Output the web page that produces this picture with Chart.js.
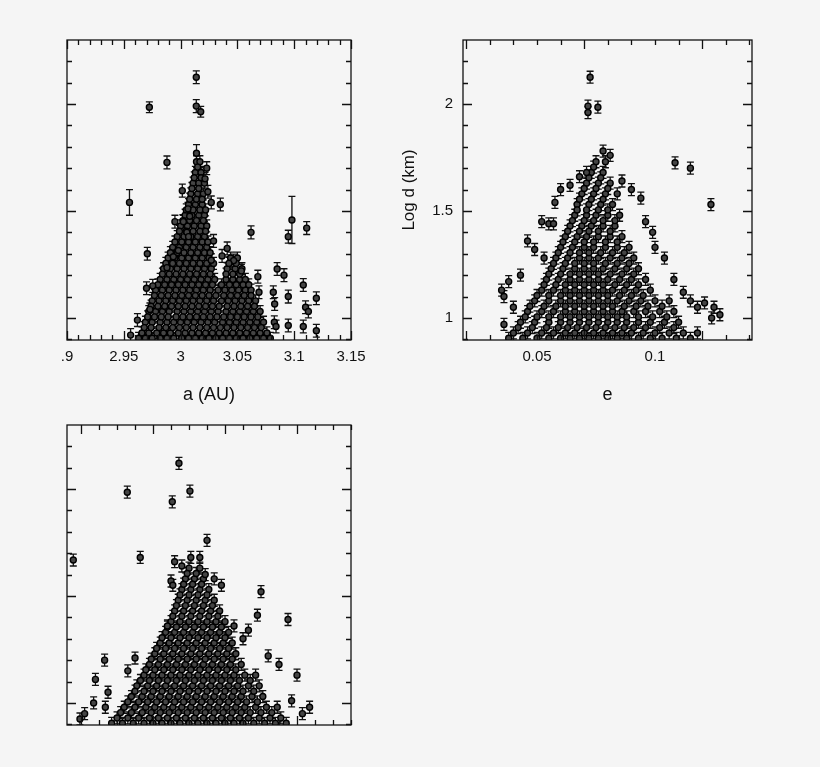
<!DOCTYPE html>
<html><head><meta charset="utf-8">
<script src="https://cdn.jsdelivr.net/npm/chart.js@4"></script>
<style>
html,body{margin:0;padding:0;background:#f5f5f5;width:820px;height:767px;overflow:hidden;font-family:"Liberation Sans",Arial,sans-serif}
canvas{position:absolute}
</style></head><body>
<canvas id="c1" width="410" height="410" style="left:0;top:0"></canvas>
<canvas id="c2" width="425" height="410" style="left:395px;top:0"></canvas>
<canvas id="c3" width="410" height="357" style="left:0;top:410px"></canvas>
<script>
// ---- data (log d in km) ----
const logDRows = [0.93,0.98,1.03,1.08,1.13,1.18,1.23,1.28,1.33,1.38,1.43,1.48,1.53,1.58,1.63,1.68,1.73];
const logDRows2 = [0.905,0.955,1.005,1.055,1.105,1.155,1.205,1.255,1.305,1.355,1.405,1.455,1.505,1.555,1.605,1.655,1.705];
const aRows = [
 [2.966,2.972,2.979,2.985,2.991,2.998,3.004,3.010,3.016,3.022,3.028,3.034,3.040,3.046,3.052,3.058,3.064,3.070,3.076],
 [2.969,2.975,2.982,2.988,2.994,3.000,3.006,3.012,3.018,3.024,3.030,3.037,3.043,3.049,3.055,3.061,3.067,3.073],
 [2.972,2.978,2.984,2.990,2.997,3.003,3.009,3.015,3.021,3.027,3.033,3.040,3.046,3.052,3.058,3.064,3.070],
 [2.975,2.981,2.987,2.993,2.999,3.005,3.011,3.017,3.023,3.029,3.036,3.042,3.048,3.054,3.060,3.066],
 [2.978,2.984,2.990,2.996,3.002,3.008,3.014,3.020,3.026,3.033,3.039,3.045,3.051,3.057,3.062],
 [2.982,2.988,2.994,3.000,3.006,3.012,3.018,3.024,3.030,3.040,3.046,3.052,3.057],
 [2.985,2.991,2.997,3.003,3.009,3.015,3.021,3.027,3.041,3.048,3.054],
 [2.989,2.995,3.001,3.007,3.013,3.019,3.025,3.044,3.050],
 [2.993,2.999,3.005,3.011,3.017,3.023],
 [2.997,3.003,3.009,3.015,3.021],
 [3.000,3.006,3.012,3.018,3.023],
 [3.004,3.010,3.016,3.021],
 [3.007,3.013,3.019],
 [3.009,3.015,3.020],
 [3.011,3.016,3.021],
 [3.013,3.018],
 [3.014,3.017]
];
const aRows2 = [
 [2.963,2.969,2.975,2.982,2.988,2.994,3.001,3.007,3.013,3.019,3.025,3.031,3.037,3.043,3.049,3.055,3.061,3.067,3.073,3.079],
 [2.968,2.974,2.981,2.987,2.993,2.999,3.005,3.011,3.017,3.023,3.029,3.035,3.041,3.047,3.053,3.059,3.065,3.071],
 [2.971,2.977,2.983,2.989,2.996,3.002,3.008,3.014,3.020,3.026,3.032,3.038,3.044,3.050,3.056,3.062,3.068],
 [2.974,2.980,2.986,2.992,2.998,3.004,3.010,3.016,3.022,3.028,3.034,3.041,3.047,3.053,3.059,3.065],
 [2.977,2.983,2.989,2.995,3.001,3.007,3.013,3.019,3.025,3.031,3.038,3.044,3.050,3.056,3.062],
 [2.980,2.986,2.992,2.998,3.004,3.010,3.016,3.022,3.028,3.036,3.043,3.049,3.055,3.060],
 [2.984,2.990,2.996,3.002,3.008,3.014,3.020,3.026,3.040,3.046,3.052],
 [2.987,2.993,2.999,3.005,3.011,3.017,3.023,3.029,3.043,3.049],
 [2.991,2.997,3.003,3.009,3.015,3.021,3.026],
 [2.995,3.001,3.007,3.013,3.019,3.024],
 [2.999,3.005,3.011,3.017,3.022],
 [3.002,3.008,3.014,3.020],
 [3.005,3.011,3.017,3.022],
 [3.008,3.014,3.019],
 [3.010,3.016],
 [3.012,3.018],
 [3.015]
];
const eRows = [
 [0.040,0.046,0.052,0.057,0.062,0.066,0.070,0.074,0.078,0.082,0.086,0.090,0.095,0.100,0.106,0.112,0.118],
 [0.043,0.049,0.055,0.060,0.064,0.068,0.072,0.076,0.080,0.084,0.088,0.093,0.098,0.104,0.110],
 [0.046,0.052,0.057,0.062,0.066,0.070,0.074,0.078,0.082,0.086,0.091,0.096,0.102,0.108],
 [0.049,0.055,0.060,0.064,0.068,0.072,0.076,0.080,0.084,0.089,0.094,0.100,0.106],
 [0.052,0.057,0.062,0.066,0.070,0.074,0.078,0.082,0.087,0.092,0.098],
 [0.054,0.059,0.064,0.068,0.072,0.076,0.080,0.085,0.090,0.096],
 [0.056,0.061,0.066,0.070,0.074,0.078,0.083,0.088,0.093],
 [0.058,0.063,0.068,0.072,0.076,0.081,0.086,0.091],
 [0.060,0.065,0.070,0.074,0.079,0.084,0.089],
 [0.062,0.067,0.071,0.076,0.081,0.086],
 [0.064,0.069,0.073,0.078,0.083],
 [0.066,0.071,0.075,0.080,0.085],
 [0.067,0.072,0.077,0.082],
 [0.069,0.074,0.079,0.084],
 [0.071,0.076,0.081],
 [0.073,0.078],
 [0.075,0.079]
];
const eRows2 = [
 [0.038,0.044,0.050,0.055,0.060,0.064,0.068,0.072,0.076,0.080,0.084,0.088,0.093,0.098,0.103,0.109,0.115],
 [0.042,0.048,0.054,0.059,0.063,0.067,0.071,0.075,0.079,0.083,0.087,0.091,0.096,0.102,0.108],
 [0.045,0.050,0.055,0.060,0.064,0.068,0.072,0.076,0.080,0.084,0.088,0.093,0.099,0.105],
 [0.047,0.053,0.058,0.062,0.066,0.070,0.074,0.078,0.082,0.087,0.092,0.097,0.103],
 [0.050,0.055,0.060,0.064,0.068,0.072,0.076,0.080,0.085,0.090,0.095],
 [0.053,0.058,0.062,0.066,0.070,0.074,0.078,0.083,0.088,0.093],
 [0.055,0.060,0.064,0.068,0.072,0.076,0.081,0.086,0.091],
 [0.057,0.062,0.066,0.070,0.074,0.079,0.084,0.089],
 [0.059,0.064,0.068,0.072,0.077,0.082,0.087],
 [0.061,0.066,0.070,0.074,0.079,0.084],
 [0.063,0.068,0.072,0.076,0.081],
 [0.065,0.070,0.074,0.078,0.083],
 [0.067,0.071,0.076,0.080],
 [0.068,0.073,0.078],
 [0.070,0.075,0.080],
 [0.072,0.077],
 [0.074]
];
const iRows = [
 [9.0,9.6,10.2,10.8,11.3,11.8,12.3,12.8,13.3,13.8,14.3,14.8,15.3,15.8,16.3,16.9,17.5,18.1],
 [9.4,10.0,10.6,11.1,11.6,12.1,12.6,13.1,13.6,14.1,14.6,15.1,15.6,16.1,16.7,17.3,17.9],
 [9.8,10.4,10.9,11.4,11.9,12.4,12.9,13.4,13.9,14.4,14.9,15.4,15.9,16.5,17.1],
 [10.1,10.7,11.2,11.7,12.2,12.7,13.2,13.7,14.2,14.7,15.2,15.7,16.3,16.9],
 [10.5,11.0,11.5,12.0,12.5,13.0,13.5,14.0,14.5,15.0,15.5,16.1,16.7],
 [10.8,11.3,11.8,12.3,12.8,13.3,13.8,14.3,14.8,15.3,15.9],
 [11.1,11.6,12.1,12.6,13.1,13.6,14.1,14.6,15.1,15.6],
 [11.4,11.9,12.4,12.9,13.4,13.9,14.4,14.9,15.4],
 [11.7,12.2,12.7,13.2,13.7,14.2,14.7,15.2],
 [12.0,12.5,13.0,13.5,14.0,14.5,15.0],
 [12.2,12.7,13.2,13.7,14.2,14.7],
 [12.4,12.9,13.4,13.9,14.4],
 [12.6,13.1,13.6,14.1],
 [12.8,13.3,13.8],
 [13.0,13.6],
 [],
 []
];
const iRows2 = [
 [8.7,9.3,9.9,10.5,11.0,11.5,12.0,12.5,13.0,13.5,14.0,14.5,15.0,15.5,16.0,16.6,17.2,17.8,18.4],
 [9.2,9.8,10.4,10.9,11.4,11.9,12.4,12.9,13.4,13.9,14.4,14.9,15.4,15.9,16.4,17.0,17.6],
 [9.6,10.2,10.7,11.2,11.7,12.2,12.7,13.2,13.7,14.2,14.7,15.2,15.7,16.2,16.8],
 [10.0,10.5,11.0,11.5,12.0,12.5,13.0,13.5,14.0,14.5,15.0,15.5,16.0,16.6],
 [10.3,10.8,11.3,11.8,12.3,12.8,13.3,13.8,14.3,14.8,15.3,15.8,16.4],
 [10.6,11.1,11.6,12.1,12.6,13.1,13.6,14.1,14.6,15.1,15.6],
 [10.9,11.4,11.9,12.4,12.9,13.4,13.9,14.4,14.9,15.4],
 [11.2,11.7,12.2,12.7,13.2,13.7,14.2,14.7,15.2],
 [11.5,12.0,12.5,13.0,13.5,14.0,14.5,15.0],
 [11.8,12.3,12.8,13.3,13.8,14.3,14.8],
 [12.1,12.6,13.1,13.6,14.1,14.6],
 [12.3,12.8,13.3,13.8,14.3],
 [12.5,13.0,13.5,14.0],
 [12.7,13.2,13.7],
 [12.9,13.4],
 [],
 []
];
// scattered (outlying) objects: x value, log d, error
const aOutX = [3.0138,2.9725,3.0138,3.0177,3.014,2.988,3.0015,2.955,3.035,2.995,3.0024,3.062,3.0948,3.098,3.111,2.9707,2.9936,2.988,2.970,2.9755,2.973,2.962,2.956,3.085,3.091,3.068,3.0816,3.0828,3.0948,3.108,3.11,3.1125,3.1195,3.108,3.1195,3.0825,3.084,3.0948,3.069,3.0535,3.0467,3.041,3.029,3.023,3.0215,3.024,3.027,3.0065,3.008,3.0055,3.007,2.998,3.0365,3.0425,3.027];
const aOutY = [2.125,1.985,1.99,1.964,1.77,1.727,1.595,1.54,1.53,1.45,1.45,1.40,1.38,1.458,1.42,1.30,1.286,1.235,1.139,1.15,1.04,0.99,0.92,1.229,1.20,1.193,1.12,1.065,1.10,1.154,1.05,1.03,1.092,0.96,0.94,0.98,0.96,0.965,1.12,1.22,1.268,1.325,1.36,1.70,1.65,1.59,1.54,1.51,1.475,1.40,1.38,1.315,1.29,1.255,1.27];
const aOutErr = [0.03,0.025,0.03,0.025,0.04,0.03,0.03,0.06,0.03,0.03,0.03,0.03,0.03,0.11,0.03,0.03,0.03,0.03,0.03,0.03,0.03,0.03,0.03,0.03,0.03,0.03,0.03,0.03,0.03,0.03,0.03,0.03,0.03,0.03,0.03,0.03,0.03,0.03,0.03,0.03,0.03,0.03,0.03,0.03,0.03,0.03,0.03,0.03,0.03,0.03,0.03,0.03,0.03,0.03,0.03];
const eOutX = [0.0725,0.0758,0.0716,0.0716,0.1085,0.115,0.1237,0.0576,0.1275,0.036,0.055,0.057,0.060,0.064,0.071,0.078,0.081,0.090,0.094,0.096,0.099,0.100,0.104,0.108,0.112,0.115,0.118,0.121,0.125,0.124,0.035,0.036,0.038,0.040,0.043,0.046,0.049,0.053,0.052,0.068,0.086];
const eOutY = [2.125,1.985,1.96,1.99,1.725,1.70,1.53,1.54,1.015,0.97,1.44,1.44,1.60,1.62,1.68,1.78,1.76,1.60,1.56,1.45,1.40,1.33,1.28,1.18,1.12,1.08,1.05,1.07,1.05,1.00,1.13,1.10,1.17,1.05,1.20,1.36,1.32,1.28,1.45,1.66,1.64];
const iOutX = [12.44,9.57,12.07,13.05,14.0,6.57,10.29,17.0,16.8,18.5,16.3,8.31,7.8,7.7,8.35,6.94,7.2,8.5,19.0,19.7,19.3,18.7,12.0,12.1,12.2,12.6,13.1,13.6,13.9,14.4,14.8,11.8,15.5,16.0,17.4,18.0,10.0,9.6];
const iOutY = [2.12,1.985,1.94,1.99,1.76,1.668,1.68,1.52,1.41,1.39,1.34,1.20,1.11,1.00,0.98,0.925,0.95,1.05,1.13,0.98,0.95,1.01,1.57,1.55,1.66,1.64,1.68,1.68,1.60,1.58,1.55,1.36,1.36,1.30,1.22,1.18,1.21,1.15];

const Y_MIN = 0.897, Y_MAX = 2.299;
const aTicks = [2.9,2.95,3,3.05,3.1,3.15];
const eTicks = [0.05,0.1];
const dTicks = [1,1.5,2];
const DEF_ERR = 0.028;

function buildPoints(rows, rows2, ox, oy, oe){
  const pts=[];
  rows.forEach((r,k)=>r.forEach(x=>pts.push({x:x,y:logDRows[k],err:DEF_ERR})));
  rows2.forEach((r,k)=>r.forEach(x=>pts.push({x:x,y:logDRows2[k],err:DEF_ERR})));
  ox.forEach((x,k)=>pts.push({x:x,y:oy[k],err:oe?oe[k]:DEF_ERR}));
  return pts;
}

const errPlugin = {
  id:'err',
  beforeDatasetsDraw(chart){
    const c=chart.ctx, xs=chart.scales.x, ys=chart.scales.y, a=chart.chartArea;
    c.save(); c.beginPath(); c.rect(a.left,a.top,a.right-a.left,a.bottom-a.top); c.clip();
    c.strokeStyle='#111'; c.lineWidth=1.3;
    chart.data.datasets[0].data.forEach(p=>{
      const px=xs.getPixelForValue(p.x), t=ys.getPixelForValue(p.y+p.err), b=ys.getPixelForValue(p.y-p.err);
      c.beginPath(); c.moveTo(px,t); c.lineTo(px,b);
      c.moveTo(px-3.5,t); c.lineTo(px+3.5,t); c.moveTo(px-3.5,b); c.lineTo(px+3.5,b); c.stroke();
    });
    c.restore();
  },
  afterDraw(chart){
    const c=chart.ctx, a=chart.chartArea, o=chart.options.plugins.err;
    const xs=chart.scales.x, ys=chart.scales.y;
    c.save(); c.strokeStyle='#111'; c.lineWidth=1.3;
    c.strokeRect(a.left,a.top,a.right-a.left,a.bottom-a.top);
    const n=Math.round((xs.max-o.x0)/o.xm);
    for(let k=0;k<=n;k++){
      const v=o.x0+k*o.xm; if(v<xs.min-1e-9) continue;
      const px=Math.round(xs.getPixelForValue(v))+0.5;
      const maj=(k%o.xr)===0, L=maj?9:5;
      c.beginPath(); c.moveTo(px,a.top); c.lineTo(px,a.top+L); c.moveTo(px,a.bottom); c.lineTo(px,a.bottom-L); c.stroke();
    }
    for(let k=0;k<=14;k++){
      const v=1+k*0.1-0.1; if(v<ys.min||v>ys.max) continue;
      const py=Math.round(ys.getPixelForValue(v))+0.5;
      const maj=Math.abs(v*2-Math.round(v*2))<1e-6, L=maj?9:5;
      c.beginPath(); c.moveTo(a.left,py); c.lineTo(a.left+L,py); c.moveTo(a.right,py); c.lineTo(a.right-L,py); c.stroke();
    }
    c.restore();
  }
};

function makeChart(id, pts, xmin, xmax, xTickVals, xLabelFn, xTitle, yLabels, pad, yW, xH, tk){
  return new Chart(document.getElementById(id), {
    type:'scatter',
    data:{datasets:[{data:pts, pointRadius:3, pointHoverRadius:3, pointBackgroundColor:'#444', pointBorderColor:'#000', pointBorderWidth:1.4, clip:0}]},
    plugins:[errPlugin],
    options:{
      responsive:false, animation:false, devicePixelRatio:1,
      layout:{padding:pad},
      plugins:{legend:{display:false}, tooltip:{enabled:false}, err:tk},
      scales:{
        x:{type:'linear', min:xmin, max:xmax,
           grid:{display:false, drawTicks:false}, border:{display:false},
           afterBuildTicks:s=>{s.ticks=xTickVals.map(v=>({value:v}));},
           afterFit:s=>{s.height=xH;},
           ticks:{display:!!xLabelFn, padding:8, color:'#111', font:{size:15,family:'Liberation Sans'}, maxRotation:0, autoSkip:false, callback:xLabelFn||(()=> '')},
           title:{display:!!xTitle, text:xTitle, color:'#111', font:{size:18,family:'Liberation Sans'}, padding:{top:6}}},
        y:{type:'linear', min:Y_MIN, max:Y_MAX,
           grid:{display:false, drawTicks:false}, border:{display:false},
           afterBuildTicks:s=>{s.ticks=dTicks.map(v=>({value:v}));},
           afterFit:s=>{s.width=yW;},
           ticks:{display:yLabels, padding:10, color:'#111', font:{size:15,family:'Liberation Sans'}, callback:v=>String(v)},
           title:{display:yLabels, text:'Log d (km)', color:'#111', font:{size:17,family:'Liberation Sans'}, padding:{bottom:4}}}
      }
    }
  });
}

makeChart('c1', buildPoints(aRows,aRows2,aOutX,aOutY,aOutErr), 2.9, 3.15, aTicks,
  v=>v===2.9?'.9':String(v), 'a (AU)', false, {top:40,right:59,left:0,bottom:0}, 67, 70,
  {x0:2.9,xm:0.01,xr:5});
makeChart('c2', buildPoints(eRows,eRows2,eOutX,eOutY,null), 0.01864, 0.1411, eTicks,
  v=>String(v), 'e', true, {top:40,right:68,left:0,bottom:0}, 68, 70,
  {x0:0.02,xm:0.01,xr:5});
makeChart('c3', buildPoints(iRows,iRows2,iOutX,iOutY,null), 6.22, 22.0, [], null, '', false,
  {top:15,right:59,left:0,bottom:0}, 67, 42,
  {x0:7,xm:1,xr:4});
</script></body></html>
